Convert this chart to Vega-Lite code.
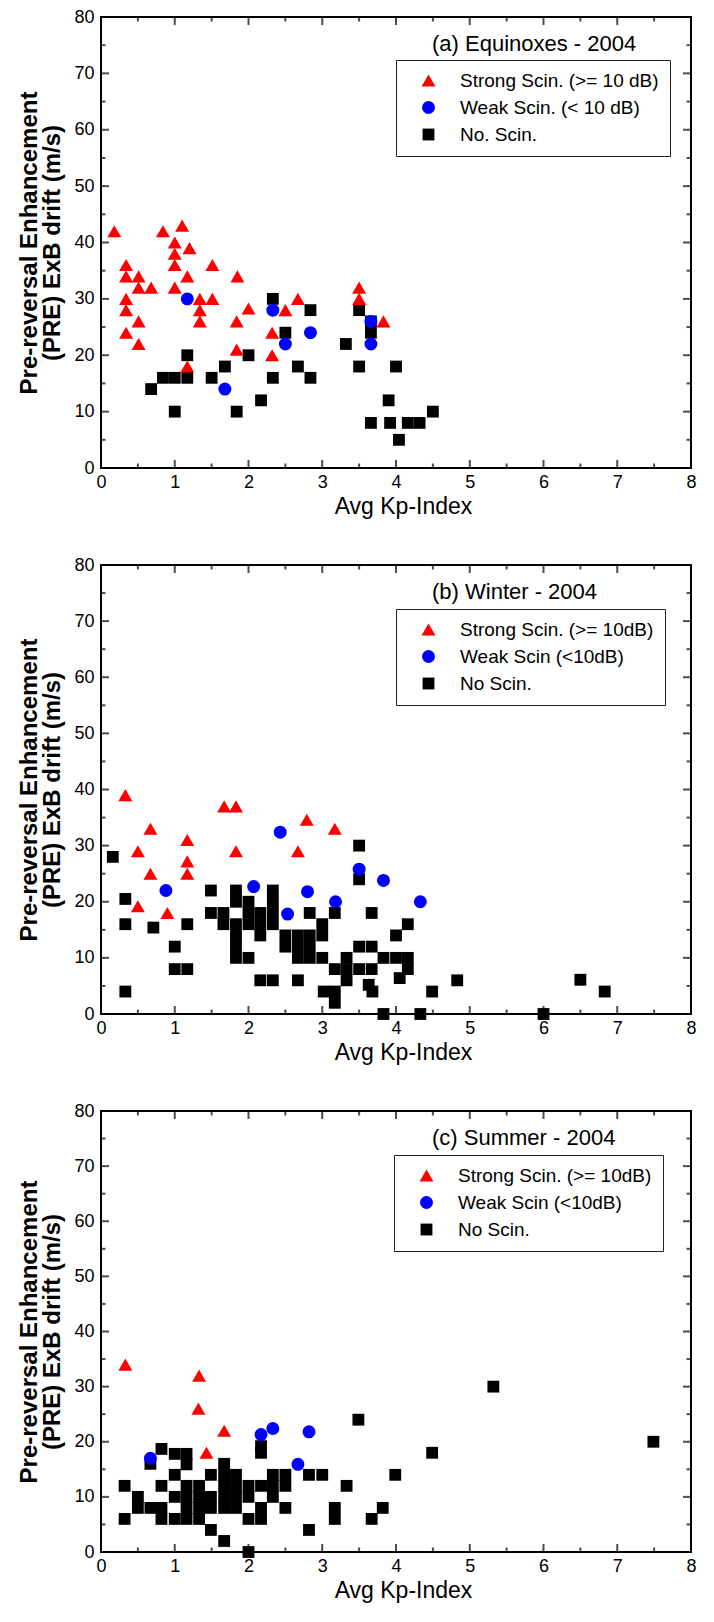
{
  "$schema": "https://vega.github.io/schema/vega-lite/v6.json",
  "background": "white",
  "padding": {"left": 16, "top": 7, "right": 5, "bottom": 5},
  "config": {
    "font": "Liberation Sans",
    "view": {"stroke": "black", "strokeWidth": 2},
    "axis": {"domain": false, "tickSize": 0, "grid": false, "labelColor": "black", "labelFontSize": 18, "labelFont": "Liberation Sans", "labelOverlap": false, "labelFlush": false, "labelBound": false, "titleColor": "black", "titleFont": "Liberation Sans"},
    "legend": {"labelFont": "Liberation Sans", "labelLimit": 400}
  },
  "datasets": {
    "xt": [{"t":0.5},{"t":1},{"t":1.5},{"t":2},{"t":2.5},{"t":3},{"t":3.5},{"t":4},{"t":4.5},{"t":5},{"t":5.5},{"t":6},{"t":6.5},{"t":7},{"t":7.5}],
    "yt": [{"t":5},{"t":10},{"t":15},{"t":20},{"t":25},{"t":30},{"t":35},{"t":40},{"t":45},{"t":50},{"t":55},{"t":60},{"t":65},{"t":70},{"t":75}],
    "a": [
      {"kp":0.68,"v":14,"cls":"None"},{"kp":0.84,"v":16,"cls":"None"},{"kp":1.0,"v":16,"cls":"None"},{"kp":1.0,"v":10,"cls":"None"},{"kp":1.17,"v":20,"cls":"None"},{"kp":1.17,"v":16,"cls":"None"},{"kp":1.5,"v":16,"cls":"None"},{"kp":1.68,"v":18,"cls":"None"},{"kp":1.84,"v":10,"cls":"None"},{"kp":2.0,"v":20,"cls":"None"},{"kp":2.17,"v":12,"cls":"None"},{"kp":2.33,"v":30,"cls":"None"},{"kp":2.33,"v":16,"cls":"None"},{"kp":2.5,"v":24,"cls":"None"},{"kp":2.67,"v":18,"cls":"None"},{"kp":2.84,"v":28,"cls":"None"},{"kp":2.84,"v":16,"cls":"None"},{"kp":3.32,"v":22,"cls":"None"},{"kp":3.5,"v":28,"cls":"None"},{"kp":3.5,"v":18,"cls":"None"},{"kp":3.66,"v":26,"cls":"None"},{"kp":3.66,"v":24,"cls":"None"},{"kp":3.66,"v":8,"cls":"None"},{"kp":3.9,"v":12,"cls":"None"},{"kp":3.92,"v":8,"cls":"None"},{"kp":4.0,"v":18,"cls":"None"},{"kp":4.04,"v":5,"cls":"None"},{"kp":4.16,"v":8,"cls":"None"},{"kp":4.32,"v":8,"cls":"None"},{"kp":4.5,"v":10,"cls":"None"},
      {"kp":1.17,"v":30,"cls":"Weak"},{"kp":1.68,"v":14,"cls":"Weak"},{"kp":2.33,"v":28,"cls":"Weak"},{"kp":2.5,"v":22,"cls":"Weak"},{"kp":2.84,"v":24,"cls":"Weak"},{"kp":3.66,"v":26,"cls":"Weak"},{"kp":3.66,"v":22,"cls":"Weak"},
      {"kp":0.18,"v":42,"cls":"Strong"},{"kp":0.34,"v":36,"cls":"Strong"},{"kp":0.34,"v":34,"cls":"Strong"},{"kp":0.51,"v":34,"cls":"Strong"},{"kp":0.51,"v":32,"cls":"Strong"},{"kp":0.68,"v":32,"cls":"Strong"},{"kp":0.34,"v":30,"cls":"Strong"},{"kp":0.34,"v":28,"cls":"Strong"},{"kp":0.51,"v":26,"cls":"Strong"},{"kp":0.34,"v":24,"cls":"Strong"},{"kp":0.51,"v":22,"cls":"Strong"},{"kp":0.84,"v":42,"cls":"Strong"},{"kp":1.0,"v":40,"cls":"Strong"},{"kp":1.0,"v":38,"cls":"Strong"},{"kp":1.0,"v":36,"cls":"Strong"},{"kp":1.0,"v":32,"cls":"Strong"},{"kp":1.1,"v":43,"cls":"Strong"},{"kp":1.2,"v":39,"cls":"Strong"},{"kp":1.17,"v":34,"cls":"Strong"},{"kp":1.34,"v":30,"cls":"Strong"},{"kp":1.34,"v":28,"cls":"Strong"},{"kp":1.34,"v":26,"cls":"Strong"},{"kp":1.51,"v":36,"cls":"Strong"},{"kp":1.51,"v":30,"cls":"Strong"},{"kp":1.17,"v":18,"cls":"Strong"},{"kp":1.85,"v":34,"cls":"Strong"},{"kp":1.84,"v":26,"cls":"Strong"},{"kp":1.84,"v":21,"cls":"Strong"},{"kp":2.0,"v":28.3,"cls":"Strong"},{"kp":2.32,"v":24,"cls":"Strong"},{"kp":2.32,"v":20,"cls":"Strong"},{"kp":2.5,"v":28,"cls":"Strong"},{"kp":2.67,"v":30,"cls":"Strong"},{"kp":3.5,"v":32,"cls":"Strong"},{"kp":3.5,"v":30,"cls":"Strong"},{"kp":3.83,"v":26,"cls":"Strong"}
    ],
    "b": [
      {"kp":0.16,"v":28,"cls":"None"},{"kp":0.33,"v":20.5,"cls":"None"},{"kp":0.33,"v":16,"cls":"None"},{"kp":0.33,"v":4,"cls":"None"},{"kp":0.71,"v":15.4,"cls":"None"},{"kp":1.0,"v":12,"cls":"None"},{"kp":1.0,"v":8,"cls":"None"},{"kp":1.17,"v":16,"cls":"None"},{"kp":1.17,"v":8,"cls":"None"},{"kp":1.49,"v":22,"cls":"None"},{"kp":1.49,"v":18,"cls":"None"},{"kp":1.66,"v":18,"cls":"None"},{"kp":1.66,"v":16,"cls":"None"},{"kp":1.83,"v":22,"cls":"None"},{"kp":1.83,"v":20,"cls":"None"},{"kp":1.83,"v":16,"cls":"None"},{"kp":1.83,"v":14,"cls":"None"},{"kp":1.83,"v":12,"cls":"None"},{"kp":1.83,"v":10,"cls":"None"},{"kp":2.0,"v":20,"cls":"None"},{"kp":2.0,"v":18,"cls":"None"},{"kp":2.0,"v":16,"cls":"None"},{"kp":2.0,"v":10,"cls":"None"},{"kp":2.16,"v":18,"cls":"None"},{"kp":2.16,"v":16,"cls":"None"},{"kp":2.16,"v":14,"cls":"None"},{"kp":2.16,"v":6,"cls":"None"},{"kp":2.33,"v":22,"cls":"None"},{"kp":2.33,"v":20,"cls":"None"},{"kp":2.33,"v":18,"cls":"None"},{"kp":2.33,"v":16,"cls":"None"},{"kp":2.33,"v":6,"cls":"None"},{"kp":2.5,"v":14,"cls":"None"},{"kp":2.5,"v":12,"cls":"None"},{"kp":2.67,"v":14,"cls":"None"},{"kp":2.67,"v":12,"cls":"None"},{"kp":2.67,"v":10,"cls":"None"},{"kp":2.67,"v":6,"cls":"None"},{"kp":2.83,"v":18,"cls":"None"},{"kp":2.83,"v":14,"cls":"None"},{"kp":2.83,"v":12,"cls":"None"},{"kp":2.83,"v":10,"cls":"None"},{"kp":3.0,"v":16,"cls":"None"},{"kp":3.0,"v":14,"cls":"None"},{"kp":3.0,"v":10,"cls":"None"},{"kp":3.02,"v":4,"cls":"None"},{"kp":3.17,"v":18,"cls":"None"},{"kp":3.17,"v":8,"cls":"None"},{"kp":3.17,"v":4,"cls":"None"},{"kp":3.17,"v":2,"cls":"None"},{"kp":3.33,"v":10,"cls":"None"},{"kp":3.33,"v":8,"cls":"None"},{"kp":3.33,"v":6,"cls":"None"},{"kp":3.5,"v":30,"cls":"None"},{"kp":3.5,"v":24,"cls":"None"},{"kp":3.5,"v":12,"cls":"None"},{"kp":3.5,"v":8,"cls":"None"},{"kp":3.67,"v":18,"cls":"None"},{"kp":3.67,"v":12,"cls":"None"},{"kp":3.67,"v":8,"cls":"None"},{"kp":3.63,"v":5.2,"cls":"None"},{"kp":3.68,"v":4,"cls":"None"},{"kp":3.83,"v":10,"cls":"None"},{"kp":3.83,"v":0,"cls":"None"},{"kp":4.0,"v":14,"cls":"None"},{"kp":4.0,"v":10,"cls":"None"},{"kp":4.05,"v":6.4,"cls":"None"},{"kp":4.16,"v":16,"cls":"None"},{"kp":4.16,"v":10,"cls":"None"},{"kp":4.16,"v":8,"cls":"None"},{"kp":4.33,"v":0,"cls":"None"},{"kp":4.49,"v":4,"cls":"None"},{"kp":4.83,"v":6,"cls":"None"},{"kp":6.0,"v":0,"cls":"None"},{"kp":6.5,"v":6.1,"cls":"None"},{"kp":6.83,"v":4,"cls":"None"},
      {"kp":0.88,"v":22,"cls":"Weak"},{"kp":2.07,"v":22.7,"cls":"Weak"},{"kp":2.43,"v":32.4,"cls":"Weak"},{"kp":2.53,"v":17.8,"cls":"Weak"},{"kp":2.8,"v":21.8,"cls":"Weak"},{"kp":3.18,"v":20,"cls":"Weak"},{"kp":3.5,"v":25.8,"cls":"Weak"},{"kp":3.83,"v":23.8,"cls":"Weak"},{"kp":4.33,"v":20,"cls":"Weak"},
      {"kp":0.33,"v":39,"cls":"Strong"},{"kp":0.5,"v":29,"cls":"Strong"},{"kp":0.67,"v":33,"cls":"Strong"},{"kp":0.67,"v":25,"cls":"Strong"},{"kp":0.5,"v":19.2,"cls":"Strong"},{"kp":0.9,"v":18,"cls":"Strong"},{"kp":1.17,"v":31,"cls":"Strong"},{"kp":1.17,"v":27.2,"cls":"Strong"},{"kp":1.17,"v":25,"cls":"Strong"},{"kp":1.67,"v":37,"cls":"Strong"},{"kp":1.83,"v":37,"cls":"Strong"},{"kp":1.83,"v":29,"cls":"Strong"},{"kp":2.67,"v":29,"cls":"Strong"},{"kp":2.79,"v":34.6,"cls":"Strong"},{"kp":3.17,"v":33,"cls":"Strong"}
    ],
    "c": [
      {"kp":0.32,"v":12,"cls":"None"},{"kp":0.32,"v":6,"cls":"None"},{"kp":0.5,"v":10,"cls":"None"},{"kp":0.5,"v":8,"cls":"None"},{"kp":0.67,"v":16,"cls":"None"},{"kp":0.67,"v":8,"cls":"None"},{"kp":0.82,"v":18.7,"cls":"None"},{"kp":0.82,"v":12,"cls":"None"},{"kp":0.82,"v":8,"cls":"None"},{"kp":0.82,"v":6,"cls":"None"},{"kp":1.0,"v":17.8,"cls":"None"},{"kp":1.0,"v":14,"cls":"None"},{"kp":1.0,"v":10,"cls":"None"},{"kp":1.0,"v":6,"cls":"None"},{"kp":1.16,"v":17.8,"cls":"None"},{"kp":1.16,"v":15.9,"cls":"None"},{"kp":1.16,"v":12,"cls":"None"},{"kp":1.16,"v":10,"cls":"None"},{"kp":1.16,"v":8,"cls":"None"},{"kp":1.16,"v":6,"cls":"None"},{"kp":1.33,"v":12,"cls":"None"},{"kp":1.33,"v":10,"cls":"None"},{"kp":1.33,"v":8,"cls":"None"},{"kp":1.33,"v":6,"cls":"None"},{"kp":1.49,"v":14,"cls":"None"},{"kp":1.49,"v":10,"cls":"None"},{"kp":1.49,"v":8,"cls":"None"},{"kp":1.49,"v":4,"cls":"None"},{"kp":1.67,"v":16,"cls":"None"},{"kp":1.67,"v":14,"cls":"None"},{"kp":1.67,"v":12,"cls":"None"},{"kp":1.67,"v":10,"cls":"None"},{"kp":1.67,"v":8,"cls":"None"},{"kp":1.67,"v":2,"cls":"None"},{"kp":1.83,"v":14,"cls":"None"},{"kp":1.83,"v":12,"cls":"None"},{"kp":1.83,"v":10,"cls":"None"},{"kp":1.83,"v":8,"cls":"None"},{"kp":2.0,"v":12,"cls":"None"},{"kp":2.0,"v":10,"cls":"None"},{"kp":2.0,"v":6,"cls":"None"},{"kp":2.0,"v":0,"cls":"None"},{"kp":2.17,"v":19.2,"cls":"None"},{"kp":2.17,"v":18,"cls":"None"},{"kp":2.17,"v":12,"cls":"None"},{"kp":2.17,"v":8,"cls":"None"},{"kp":2.17,"v":6,"cls":"None"},{"kp":2.33,"v":14,"cls":"None"},{"kp":2.33,"v":12,"cls":"None"},{"kp":2.33,"v":10,"cls":"None"},{"kp":2.5,"v":14,"cls":"None"},{"kp":2.5,"v":12,"cls":"None"},{"kp":2.5,"v":8,"cls":"None"},{"kp":2.82,"v":14,"cls":"None"},{"kp":2.82,"v":4,"cls":"None"},{"kp":3.0,"v":14,"cls":"None"},{"kp":3.17,"v":8,"cls":"None"},{"kp":3.17,"v":6,"cls":"None"},{"kp":3.33,"v":12,"cls":"None"},{"kp":3.49,"v":24,"cls":"None"},{"kp":3.67,"v":6,"cls":"None"},{"kp":3.82,"v":8,"cls":"None"},{"kp":3.99,"v":14,"cls":"None"},{"kp":4.49,"v":18,"cls":"None"},{"kp":5.32,"v":30,"cls":"None"},{"kp":7.49,"v":20,"cls":"None"},
      {"kp":0.67,"v":17,"cls":"Weak"},{"kp":2.17,"v":21.3,"cls":"Weak"},{"kp":2.33,"v":22.4,"cls":"Weak"},{"kp":2.82,"v":21.8,"cls":"Weak"},{"kp":2.67,"v":15.9,"cls":"Weak"},
      {"kp":0.33,"v":34,"cls":"Strong"},{"kp":1.33,"v":32,"cls":"Strong"},{"kp":1.32,"v":26,"cls":"Strong"},{"kp":1.67,"v":22,"cls":"Strong"},{"kp":1.43,"v":18,"cls":"Strong"}
    ]
  },
  "spacing": 36,
  "resolve": {"scale": {"color": "independent", "shape": "independent", "size": "independent"}, "legend": {"color": "independent", "shape": "independent"}},
  "vconcat": [
    {
      "width": 590, "height": 451,
      "title": {"text": "(a) Equinoxes - 2004", "frame": "group", "anchor": "start", "dx": 331, "offset": -58, "baseline": "middle", "fontSize": 22, "fontWeight": "normal", "color": "black", "font": "Liberation Sans"},
      "layer": [
        {
          "data": {"name": "a"},
          "mark": {"type": "point", "filled": true, "opacity": 1},
          "encoding": {
            "x": {"field": "kp", "type": "quantitative", "scale": {"domain": [0, 8], "nice": false, "zero": false},
              "axis": {"orient": "bottom", "values": [0,1,2,3,4,5,6,7,8], "format": "d", "labelPadding": 5, "title": "Avg Kp-Index", "titleFontSize": 23, "titleFontWeight": "normal", "titlePadding": 4, "titleX": 302}},
            "y": {"field": "v", "type": "quantitative", "scale": {"domain": [0, 80], "nice": false},
              "axis": {"orient": "left", "values": [0,10,20,30,40,50,60,70,80], "labelPadding": 7, "title": ["Pre-reversal Enhancement", "(PRE) ExB drift (m/s)"], "titleFontSize": 24, "titleFontWeight": "bold", "titleLineHeight": 23, "titlePadding": 9}},
            "shape": {"field": "cls", "type": "nominal", "scale": {"domain": ["Strong", "Weak", "None"], "range": ["triangle-up", "circle", "square"]},
              "legend": {"title": null, "orient": "none", "legendX": 295, "legendY": 43, "strokeColor": "#222222", "fillColor": "white", "padding": 11, "symbolOffset": 12, "labelOffset": 22, "symbolSize": 110, "labelFontSize": 19, "labelColor": "black", "rowPadding": 7, "labelExpr": "datum.label === 'Strong' ? 'Strong Scin. (>= 10 dB)' : datum.label === 'Weak' ? 'Weak Scin. (< 10 dB)' : 'No. Scin.'"}},
            "color": {"field": "cls", "type": "nominal", "scale": {"domain": ["Strong", "Weak", "None"], "range": ["#ff0000", "#0000ff", "#000000"]},
              "legend": {"title": null, "orient": "none", "legendX": 295, "legendY": 43, "strokeColor": "#222222", "fillColor": "white", "padding": 11, "symbolOffset": 12, "labelOffset": 22, "symbolSize": 110, "labelFontSize": 19, "labelColor": "black", "rowPadding": 7, "labelExpr": "datum.label === 'Strong' ? 'Strong Scin. (>= 10 dB)' : datum.label === 'Weak' ? 'Weak Scin. (< 10 dB)' : 'No. Scin.'"}},
            "size": {"field": "cls", "type": "nominal", "scale": {"domain": ["Strong", "Weak", "None"], "range": [196, 140, 121]}, "legend": null}
          }
        },
        {"data": {"name": "xt"}, "mark": {"type": "tick", "orient": "vertical", "clip": true, "color": "black", "thickness": 2}, "encoding": {"x": {"field": "t", "type": "quantitative"}, "y": {"datum": 0, "type": "quantitative"}, "size": {"condition": {"test": "datum.t % 1 === 0", "value": 16}, "value": 9}}},
        {"data": {"name": "xt"}, "mark": {"type": "tick", "orient": "vertical", "clip": true, "color": "black", "thickness": 2}, "encoding": {"x": {"field": "t", "type": "quantitative"}, "y": {"datum": 80, "type": "quantitative"}, "size": {"condition": {"test": "datum.t % 1 === 0", "value": 16}, "value": 9}}},
        {"data": {"name": "yt"}, "mark": {"type": "tick", "orient": "horizontal", "clip": true, "color": "black", "thickness": 2}, "encoding": {"y": {"field": "t", "type": "quantitative"}, "x": {"datum": 0, "type": "quantitative"}, "size": {"condition": {"test": "datum.t % 10 === 0", "value": 16}, "value": 9}}},
        {"data": {"name": "yt"}, "mark": {"type": "tick", "orient": "horizontal", "clip": true, "color": "black", "thickness": 2}, "encoding": {"y": {"field": "t", "type": "quantitative"}, "x": {"datum": 8, "type": "quantitative"}, "size": {"condition": {"test": "datum.t % 10 === 0", "value": 16}, "value": 9}}}
      ]
    },
    {
      "width": 590, "height": 449,
      "title": {"text": "(b) Winter - 2004", "frame": "group", "anchor": "start", "dx": 331, "offset": -58, "baseline": "middle", "fontSize": 22, "fontWeight": "normal", "color": "black", "font": "Liberation Sans"},
      "layer": [
        {
          "data": {"name": "b"},
          "mark": {"type": "point", "filled": true, "opacity": 1},
          "encoding": {
            "x": {"field": "kp", "type": "quantitative", "scale": {"domain": [0, 8], "nice": false, "zero": false},
              "axis": {"orient": "bottom", "values": [0,1,2,3,4,5,6,7,8], "format": "d", "labelPadding": 5, "title": "Avg Kp-Index", "titleFontSize": 23, "titleFontWeight": "normal", "titlePadding": 4, "titleX": 302}},
            "y": {"field": "v", "type": "quantitative", "scale": {"domain": [0, 80], "nice": false},
              "axis": {"orient": "left", "values": [0,10,20,30,40,50,60,70,80], "labelPadding": 7, "title": ["Pre-reversal Enhancement", "(PRE) ExB drift (m/s)"], "titleFontSize": 24, "titleFontWeight": "bold", "titleLineHeight": 23, "titlePadding": 9}},
            "shape": {"field": "cls", "type": "nominal", "scale": {"domain": ["Strong", "Weak", "None"], "range": ["triangle-up", "circle", "square"]},
              "legend": {"title": null, "orient": "none", "legendX": 295, "legendY": 44, "strokeColor": "#222222", "fillColor": "white", "padding": 11, "symbolOffset": 12, "labelOffset": 22, "symbolSize": 110, "labelFontSize": 19, "labelColor": "black", "rowPadding": 7, "labelExpr": "datum.label === 'Strong' ? 'Strong Scin. (>= 10dB)' : datum.label === 'Weak' ? 'Weak Scin (<10dB)' : 'No Scin.'"}},
            "color": {"field": "cls", "type": "nominal", "scale": {"domain": ["Strong", "Weak", "None"], "range": ["#ff0000", "#0000ff", "#000000"]},
              "legend": {"title": null, "orient": "none", "legendX": 295, "legendY": 44, "strokeColor": "#222222", "fillColor": "white", "padding": 11, "symbolOffset": 12, "labelOffset": 22, "symbolSize": 110, "labelFontSize": 19, "labelColor": "black", "rowPadding": 7, "labelExpr": "datum.label === 'Strong' ? 'Strong Scin. (>= 10dB)' : datum.label === 'Weak' ? 'Weak Scin (<10dB)' : 'No Scin.'"}},
            "size": {"field": "cls", "type": "nominal", "scale": {"domain": ["Strong", "Weak", "None"], "range": [196, 140, 121]}, "legend": null}
          }
        },
        {"data": {"name": "xt"}, "mark": {"type": "tick", "orient": "vertical", "clip": true, "color": "black", "thickness": 2}, "encoding": {"x": {"field": "t", "type": "quantitative"}, "y": {"datum": 0, "type": "quantitative"}, "size": {"condition": {"test": "datum.t % 1 === 0", "value": 16}, "value": 9}}},
        {"data": {"name": "xt"}, "mark": {"type": "tick", "orient": "vertical", "clip": true, "color": "black", "thickness": 2}, "encoding": {"x": {"field": "t", "type": "quantitative"}, "y": {"datum": 80, "type": "quantitative"}, "size": {"condition": {"test": "datum.t % 1 === 0", "value": 16}, "value": 9}}},
        {"data": {"name": "yt"}, "mark": {"type": "tick", "orient": "horizontal", "clip": true, "color": "black", "thickness": 2}, "encoding": {"y": {"field": "t", "type": "quantitative"}, "x": {"datum": 0, "type": "quantitative"}, "size": {"condition": {"test": "datum.t % 10 === 0", "value": 16}, "value": 9}}},
        {"data": {"name": "yt"}, "mark": {"type": "tick", "orient": "horizontal", "clip": true, "color": "black", "thickness": 2}, "encoding": {"y": {"field": "t", "type": "quantitative"}, "x": {"datum": 8, "type": "quantitative"}, "size": {"condition": {"test": "datum.t % 10 === 0", "value": 16}, "value": 9}}}
      ]
    },
    {
      "width": 590, "height": 441,
      "title": {"text": "(c) Summer - 2004", "frame": "group", "anchor": "start", "dx": 331, "offset": -58, "baseline": "middle", "fontSize": 22, "fontWeight": "normal", "color": "black", "font": "Liberation Sans"},
      "layer": [
        {
          "data": {"name": "c"},
          "mark": {"type": "point", "filled": true, "opacity": 1},
          "encoding": {
            "x": {"field": "kp", "type": "quantitative", "scale": {"domain": [0, 8], "nice": false, "zero": false},
              "axis": {"orient": "bottom", "values": [0,1,2,3,4,5,6,7,8], "format": "d", "labelPadding": 5, "title": "Avg Kp-Index", "titleFontSize": 23, "titleFontWeight": "normal", "titlePadding": 4, "titleX": 302}},
            "y": {"field": "v", "type": "quantitative", "scale": {"domain": [0, 80], "nice": false},
              "axis": {"orient": "left", "values": [0,10,20,30,40,50,60,70,80], "labelPadding": 7, "title": ["Pre-reversal Enhancement", "(PRE) ExB drift (m/s)"], "titleFontSize": 24, "titleFontWeight": "bold", "titleLineHeight": 23, "titlePadding": 9}},
            "shape": {"field": "cls", "type": "nominal", "scale": {"domain": ["Strong", "Weak", "None"], "range": ["triangle-up", "circle", "square"]},
              "legend": {"title": null, "orient": "none", "legendX": 293, "legendY": 44, "strokeColor": "#222222", "fillColor": "white", "padding": 11, "symbolOffset": 12, "labelOffset": 22, "symbolSize": 110, "labelFontSize": 19, "labelColor": "black", "rowPadding": 7, "labelExpr": "datum.label === 'Strong' ? 'Strong Scin. (>= 10dB)' : datum.label === 'Weak' ? 'Weak Scin (<10dB)' : 'No Scin.'"}},
            "color": {"field": "cls", "type": "nominal", "scale": {"domain": ["Strong", "Weak", "None"], "range": ["#ff0000", "#0000ff", "#000000"]},
              "legend": {"title": null, "orient": "none", "legendX": 293, "legendY": 44, "strokeColor": "#222222", "fillColor": "white", "padding": 11, "symbolOffset": 12, "labelOffset": 22, "symbolSize": 110, "labelFontSize": 19, "labelColor": "black", "rowPadding": 7, "labelExpr": "datum.label === 'Strong' ? 'Strong Scin. (>= 10dB)' : datum.label === 'Weak' ? 'Weak Scin (<10dB)' : 'No Scin.'"}},
            "size": {"field": "cls", "type": "nominal", "scale": {"domain": ["Strong", "Weak", "None"], "range": [196, 140, 121]}, "legend": null}
          }
        },
        {"data": {"name": "xt"}, "mark": {"type": "tick", "orient": "vertical", "clip": true, "color": "black", "thickness": 2}, "encoding": {"x": {"field": "t", "type": "quantitative"}, "y": {"datum": 0, "type": "quantitative"}, "size": {"condition": {"test": "datum.t % 1 === 0", "value": 16}, "value": 9}}},
        {"data": {"name": "xt"}, "mark": {"type": "tick", "orient": "vertical", "clip": true, "color": "black", "thickness": 2}, "encoding": {"x": {"field": "t", "type": "quantitative"}, "y": {"datum": 80, "type": "quantitative"}, "size": {"condition": {"test": "datum.t % 1 === 0", "value": 16}, "value": 9}}},
        {"data": {"name": "yt"}, "mark": {"type": "tick", "orient": "horizontal", "clip": true, "color": "black", "thickness": 2}, "encoding": {"y": {"field": "t", "type": "quantitative"}, "x": {"datum": 0, "type": "quantitative"}, "size": {"condition": {"test": "datum.t % 10 === 0", "value": 16}, "value": 9}}},
        {"data": {"name": "yt"}, "mark": {"type": "tick", "orient": "horizontal", "clip": true, "color": "black", "thickness": 2}, "encoding": {"y": {"field": "t", "type": "quantitative"}, "x": {"datum": 8, "type": "quantitative"}, "size": {"condition": {"test": "datum.t % 10 === 0", "value": 16}, "value": 9}}}
      ]
    }
  ]
}
